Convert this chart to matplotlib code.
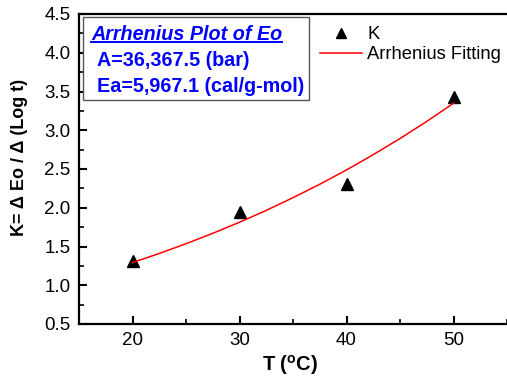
import matplotlib
matplotlib.use("Agg")
import matplotlib.pyplot as plt
from matplotlib.ticker import MultipleLocator
from matplotlib.lines import Line2D

plt.rcParams['font.family'] = ['Liberation Sans', 'DejaVu Sans']
plt.rcParams['mathtext.fontset'] = 'custom'
plt.rcParams['mathtext.rm'] = 'Liberation Sans:bold'
plt.rcParams['mathtext.bf'] = 'Liberation Sans:bold'

# Data
temps = [20, 30, 40, 50]
k_values = [1.31, 1.94, 2.31, 3.43]
fit_temps = [20, 22.5, 25, 27.5, 30, 32.5, 35, 37.5, 40, 42.5, 45, 47.5, 50]
fit_values = [1.293, 1.410, 1.536, 1.670, 1.813, 1.966, 2.130, 2.303, 2.488, 2.685, 2.893, 3.114, 3.348]
x_ticks = [20, 30, 40, 50]
y_ticks = [0.5, 1.0, 1.5, 2.0, 2.5, 3.0, 3.5, 4.0, 4.5]

W, H = 507, 378
fig = plt.figure(figsize=(W/100, H/100), dpi=100)
ax = fig.add_axes([79/W, 1-324/H, 1-79/W, (324-14)/H])

ax.plot(temps, k_values, linestyle='none', marker='^', color='black', markersize=8.5, label='K')
ax.plot(fit_temps, fit_values, color='red', linewidth=1.1, label='Arrhenius Fitting')

ax.set_xlim(15, 55)
ax.set_ylim(0.5, 4.5)
ax.set_xticks(x_ticks)
ax.set_yticks(y_ticks)
ax.set_yticklabels([f"{v:.1f}" for v in y_ticks])
ax.xaxis.set_minor_locator(MultipleLocator(5))
ax.yaxis.set_minor_locator(MultipleLocator(0.25))
ax.tick_params(which='major', direction='in', length=6, width=1.5, labelsize=13.5, pad=6)
ax.tick_params(which='minor', direction='in', length=3.5, width=1.2)
ax.tick_params(axis='y', which='both', right=False)
ax.tick_params(axis='x', which='both', top=False)
for s in ['left', 'bottom', 'top']:
    ax.spines[s].set_linewidth(1.6)
ax.spines['right'].set_visible(False)

ax.set_xlabel(r'T ($^{\mathrm{o}}$C)', fontsize=14.5, fontweight='bold')
ax.xaxis.set_label_coords((290-79)/428, -(365-324)/310)
ax.xaxis.label.set_va('center')
ax.set_ylabel('K= Δ Eo / Δ (Log t)', fontsize=13, fontweight='bold')
ax.yaxis.set_label_coords((20-79)/428, (324-157)/310)
ax.yaxis.label.set_va('center')

# Text box
box = plt.Rectangle((83/W, 1-100/H), (309-83)/W, (100-17)/H, transform=fig.transFigure,
                    facecolor='white', edgecolor='#555555', linewidth=1.0, zorder=3)
fig.patches.append(box)
t1 = fig.text(91/W, 1-35/H, 'Arrhenius Plot of Eo', color='#0000ff', fontsize=14.2,
              fontweight='bold', fontstyle='italic', va='center', ha='left', zorder=4)
fig.text(97/W, 1-61/H, 'A=36,367.5 (bar)', color='#0000ff', fontsize=14.2,
         fontweight='bold', va='center', ha='left', zorder=4)
fig.text(97/W, 1-86/H, 'Ea=5,967.1 (cal/g-mol)', color='#0000ff', fontsize=14.2,
         fontweight='bold', va='center', ha='left', zorder=4)

fig.canvas.draw()
bb = t1.get_window_extent().transformed(fig.transFigure.inverted())
fig.lines.append(Line2D([bb.x0, bb.x1], [1-42/H, 1-42/H], transform=fig.transFigure,
                        color='#0000ff', linewidth=1.4, zorder=4))

leg = ax.legend(loc='upper left', bbox_to_anchor=(320/W, 1-26/H), bbox_transform=fig.transFigure,
                frameon=False, fontsize=13.2, handlelength=2.3, handletextpad=0.27, labelspacing=0.17,
                borderpad=0, borderaxespad=0, markerscale=0.85)

fig.savefig('out.png', dpi=100)
